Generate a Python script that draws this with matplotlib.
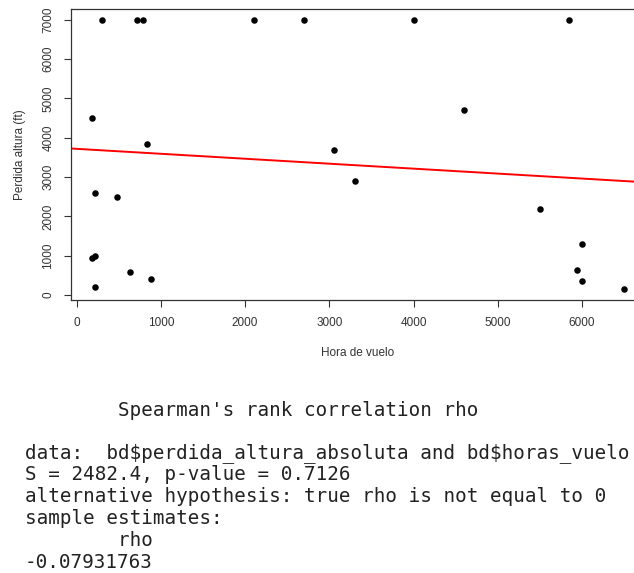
"""Scatter of altitude loss vs flight hours with a linear fit and the Spearman test output."""
import numpy as np
import matplotlib
matplotlib.use("Agg")
import matplotlib.pyplot as plt

# flight hours and absolute altitude loss (ft)
horas_vuelo = [305, 722, 785, 2105, 2703, 186, 832, 214, 480, 186, 218, 638,
               888, 214, 4000, 5850, 3052, 3302, 4594, 5497, 6001, 5942, 6000, 6496]
perdida_altura = [7000, 7000, 7000, 7000, 7000, 4500, 3850, 2600, 2500, 950, 1000, 600,
                  400, 200, 7000, 7000, 3700, 2900, 4700, 2200, 1300, 650, 350, 150]

x_ticks = [0, 1000, 2000, 3000, 4000, 5000, 6000]
y_ticks = [0, 1000, 2000, 3000, 4000, 5000, 6000, 7000]

# console output of cor.test(..., method = "spearman")
test_title = "Spearman's rank correlation rho"
test_lines = [
    "data:  bd$perdida_altura_absoluta and bd$horas_vuelo",
    "S = 2482.4, p-value = 0.7126",
    "alternative hypothesis: true rho is not equal to 0",
    "sample estimates:",
    "        rho",
    "-0.07931763",
]

W, H = 634, 573
fig = plt.figure(figsize=(W / 100, H / 100), dpi=100)
ax = fig.add_axes([71 / W, 1 - 300 / H, 574 / W, 291 / H])

x = np.array(horas_vuelo, dtype=float)
y = np.array(perdida_altura, dtype=float)

ax.scatter(x, y, s=22, color="black", zorder=3, linewidths=0)

slope, intercept = np.polyfit(x, y, 1)
xl = np.array([-500, 8000])
ax.plot(xl, intercept + slope * xl, color="#ff0000", lw=1.4, zorder=2)

ax.set_xlim(-66, 6748)
ax.set_ylim(-124, 7274)
ax.set_xticks(x_ticks)
ax.set_yticks(y_ticks)

for s in ["left", "top", "bottom"]:
    ax.spines[s].set_color("#333333")
    ax.spines[s].set_linewidth(0.9)
ax.spines["right"].set_visible(False)

ax.tick_params(length=5, width=0.8, color="#333333", pad=7,
               labelsize=8.5, labelcolor="#333333")
ax.set_yticklabels([str(v) for v in y_ticks], rotation=90, va="center")
for lab in ax.get_xticklabels() + ax.get_yticklabels():
    lab.set_family("Liberation Sans")

fig.text(20 / W, 1 - 155 / H, "Perdida altura (ft)", rotation=90, ha="center", va="center",
         fontsize=8.5, family="Liberation Sans", color="#333333")
fig.text(358 / W, 1 - 353 / H, "Hora de vuelo", ha="center", va="center",
         fontsize=8.5, family="Liberation Sans", color="#333333")

mono = dict(family="DejaVu Sans Mono", fontsize=13.9, color="#222222",
            va="center", ha="left", parse_math=False)
fig.text(118 / W, 1 - 410 / H, test_title, **mono)
for i, line in enumerate(test_lines):
    fig.text(25 / W, 1 - (453 + i * 21.8) / H, line, **mono)

fig.savefig("out.png", dpi=100, facecolor="white")
